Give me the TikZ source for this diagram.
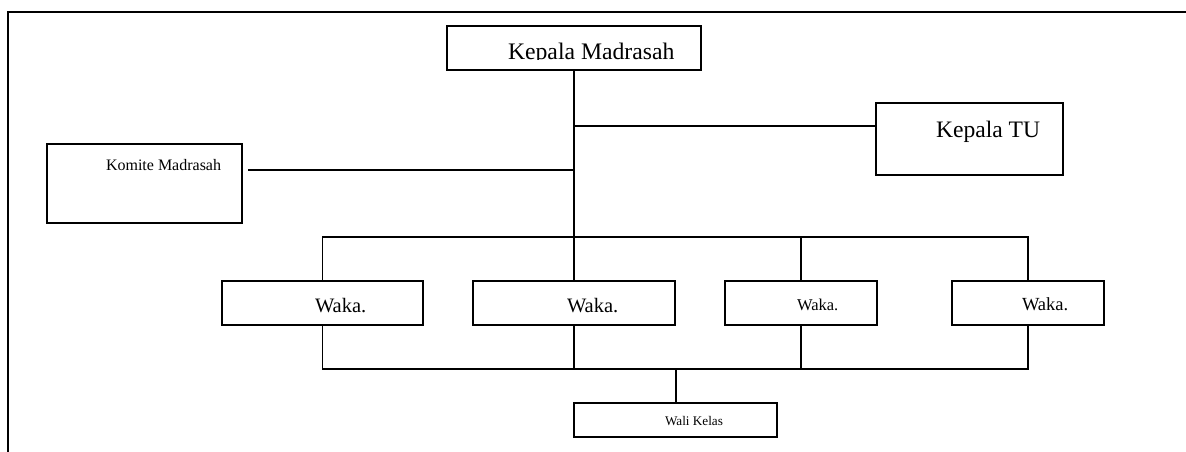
\documentclass[tikz,border=0pt]{standalone}
\usepackage{fontspec}
\setmainfont{Liberation Serif}
\tikzset{
  box/.style={draw=black, line width=1.8pt, rectangle, inner sep=0pt, outer sep=0pt, anchor=north west},
  lbl/.style={inner sep=0pt, outer sep=0pt, anchor=base west, text=black},
  conn/.style={draw=black, line width=1.8pt},
}
\newcommand{\fs}[1]{\fontsize{#1}{#1}\selectfont}
\begin{document}
\begin{tikzpicture}[x=1pt, y=-1pt]
\useasboundingbox (0,0) rectangle (1186,451);
% frame
\draw[conn, line cap=rect] (8,451) -- (8,12) -- (1186,12);

% boxes
\node[box, minimum width=254pt, minimum height=44pt] (km) at (447,26) {};
\node[box, minimum width=187pt, minimum height=72pt] (tu) at (876,103) {};
\node[box, minimum width=195pt, minimum height=79pt] (kom) at (47,144) {};
\node[box, minimum width=201pt, minimum height=44pt] (w1) at (222,281) {};
\node[box, minimum width=202pt, minimum height=44pt] (w2) at (473,281) {};
\node[box, minimum width=152pt, minimum height=44pt] (w3) at (725,281) {};
\node[box, minimum width=152pt, minimum height=44pt] (w4) at (952,281) {};
\node[box, minimum width=203pt, minimum height=34pt] (wk) at (574,403) {};

% labels
\begin{scope}
\clip (447,26) rectangle (701,59.2);
\node[lbl, font=\fs{23.7}] (tkm) at (508,59.5) {Kepala Madrasah};
\end{scope}
\node[lbl, font=\fs{23.6}] (ttu) at (936,137) {Kepala TU};
\node[lbl, font=\fs{16}] (tkom) at (106,170.5) {Komite Madrasah};
\node[lbl, font=\fs{20.5}] (tw1) at (315,312) {Waka.};
\node[lbl, font=\fs{20.5}] (tw2) at (567,312) {Waka.};
\node[lbl, font=\fs{16.5}] (tw3) at (797,310) {Waka.};
\node[lbl, font=\fs{18.5}] (tw4) at (1022,310) {Waka.};
\node[lbl, font=\fs{13.2}] (twk) at (665,425) {Wali Kelas};

% junction coordinates
\coordinate (j1) at (574,237);
\coordinate (jtu) at (574,126);
\coordinate (jkom) at (574,170);
\coordinate (j2) at (676,369);
\coordinate (komend) at (248,170);

% connectors
\draw[conn] (km.south) -- (km.south |- j1);
\draw[conn] (jtu) -- (jtu -| tu.west);
\draw[conn] (jkom) -- (komend);
\draw[conn] (w1.north) |- (w4.north |- j1) -- (w4.north);
\draw[conn] (w2.north) -- (w2.north |- j1);
\draw[conn] (w3.north) -- (w3.north |- j1);
\draw[conn] (w1.south) |- (w4.south |- j2) -- (w4.south);
\draw[conn] (w2.south) -- (w2.south |- j2);
\draw[conn] (w3.south) -- (w3.south |- j2);
\draw[conn] (j2) -- (j2 |- wk.north);
\end{tikzpicture}
\end{document}
